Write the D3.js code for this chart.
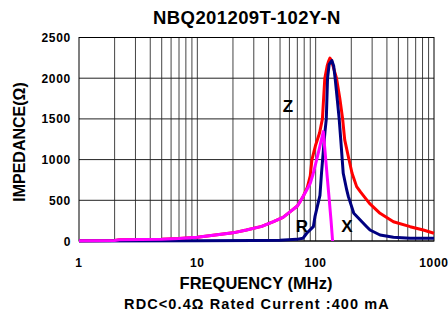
<!DOCTYPE html>
<html><head><meta charset="utf-8">
<script src="https://cdn.jsdelivr.net/npm/d3@7"></script>
<style>body{margin:0;background:#fff}svg{display:block}text{font-family:"Liberation Sans",Arial,sans-serif;font-weight:bold;fill:#000}</style>
</head><body>
<script>
const title = "NBQ201209T-102Y-N";
const xTicks = [1, 10, 100, 1000];
const yTicks = [0, 500, 1000, 1500, 2000, 2500];

const freqZ = [1, 2, 2.2, 5, 7, 10, 13.6, 20, 26, 35, 44, 53, 61, 70, 78, 85, 90, 93, 100, 108, 114, 119.5, 125, 128, 132, 136, 142, 150, 160, 169, 176, 190, 203, 222, 240, 285, 350, 454, 629, 812, 1000];
const valZ  = [2, 5, 15, 22, 30, 45, 70, 100, 135, 180, 237, 290, 360, 430, 540, 660, 800, 1000, 1180, 1330, 1500, 2000, 2150, 2200, 2247, 2220, 2120, 2000, 1750, 1500, 1242, 1020, 832, 668, 600, 463, 340, 237, 176, 135, 95];

const freqX = [1, 10, 30, 50, 69, 78, 84, 95.6, 98.6, 108.7, 112, 116, 120, 123, 126, 130, 137, 142, 146, 152, 158, 163, 171, 183, 189, 210, 270, 288, 350, 454, 629, 1000];
const valX  = [0, 2, 5, 8, 20, 33, 95, 176, 299, 560, 832, 1100, 1350, 1500, 2000, 2170, 2217, 2150, 2000, 1750, 1500, 1242, 832, 627, 545, 340, 176, 135, 74, 45, 33, 33];

const freqR = [1, 2, 2.2, 5, 7, 10, 13.6, 20, 26, 35, 44, 53, 61, 70, 74, 84, 90, 95, 102, 108, 112, 116, 120, 125, 130, 135, 139];
const valR  = [2, 5, 15, 22, 30, 45, 70, 100, 135, 180, 237, 290, 360, 430, 484, 627, 710, 820, 1000, 1150, 1250, 1344, 1100, 800, 520, 243, 0];

const W = 448, H = 322;
const svg = d3.select("body").append("svg").attr("width", W).attr("height", H);
const x = d3.scaleLog().domain([1, 1000]).range([79, 434]);
const y = d3.scaleLinear().domain([0, 2500]).range([241, 37.5]);

// grid
const minor = [];
for (let d = 1; d < 1000; d *= 10) for (let k = 2; k <= 10; k++) if (d * k < 1000) minor.push(d * k);
svg.append("g").selectAll("line").data(minor).join("line")
  .attr("x1", d => x(d)).attr("x2", d => x(d)).attr("y1", y(0)).attr("y2", y(2500))
  .attr("stroke", "#444").attr("stroke-width", 1);
svg.append("g").selectAll("line").data(yTicks).join("line")
  .attr("x1", x(1)).attr("x2", x(1000)).attr("y1", d => y(d)).attr("y2", d => y(d))
  .attr("stroke", "#222").attr("stroke-width", 1);
svg.append("rect").attr("x", x(1)).attr("y", y(2500)).attr("width", x(1000) - x(1)).attr("height", y(0) - y(2500))
  .attr("fill", "none").attr("stroke", "#000").attr("stroke-width", 1);

svg.append("clipPath").attr("id", "clip").append("rect")
  .attr("x", x(1)).attr("y", y(2500) - 5).attr("width", x(1000) - x(1) + 2).attr("height", y(0) - y(2500) + 7);

const line = d3.line().x(d => x(d[0])).y(d => y(d[1]));
const series = [
  [freqZ, valZ, "#ff0000"],
  [freqX, valX, "#000080"],
  [freqR, valR, "#ff00ff"]
];
const gl = svg.append("g").attr("clip-path", "url(#clip)");
series.forEach(([f, v, c]) => {
  gl.append("path").datum(f.map((d, i) => [d, v[i]])).attr("d", line)
    .attr("fill", "none").attr("stroke", c).attr("stroke-width", 3).attr("stroke-linejoin", "round");
});

// axis labels
svg.append("g").selectAll("text").data(yTicks).join("text")
  .attr("x", 71).attr("y", d => y(d) + 4.5).attr("text-anchor", "end").attr("font-size", 12).attr("letter-spacing", 0.7).text(d => d);
svg.append("g").selectAll("text").data(xTicks).join("text")
  .attr("x", d => x(d)).attr("y", 267).attr("text-anchor", "middle").attr("font-size", 12).attr("letter-spacing", 0.7).text(d => d);

svg.append("text").attr("x", 247).attr("y", 24).attr("text-anchor", "middle").attr("font-size", 18.5).attr("letter-spacing", 0.4).text(title);
svg.append("text").attr("transform", "translate(25,142) rotate(-90)").attr("text-anchor", "middle").attr("font-size", 16).text("IMPEDANCE(Ω)");
svg.append("text").attr("x", 256).attr("y", 289).attr("text-anchor", "middle").attr("font-size", 16.5).text("FREQUENCY (MHz)");
svg.append("text").attr("x", 257).attr("y", 309).attr("text-anchor", "middle").attr("font-size", 14.5).attr("letter-spacing", 1.1).text("RDC<0.4Ω Rated Current :400 mA");

// curve labels
[["Z", 288, 112], ["R", 302, 232], ["X", 347, 232]].forEach(([t, px, py]) =>
  svg.append("text").attr("x", px).attr("y", py).attr("text-anchor", "middle").attr("font-size", 17).text(t));
</script>
</body></html>
